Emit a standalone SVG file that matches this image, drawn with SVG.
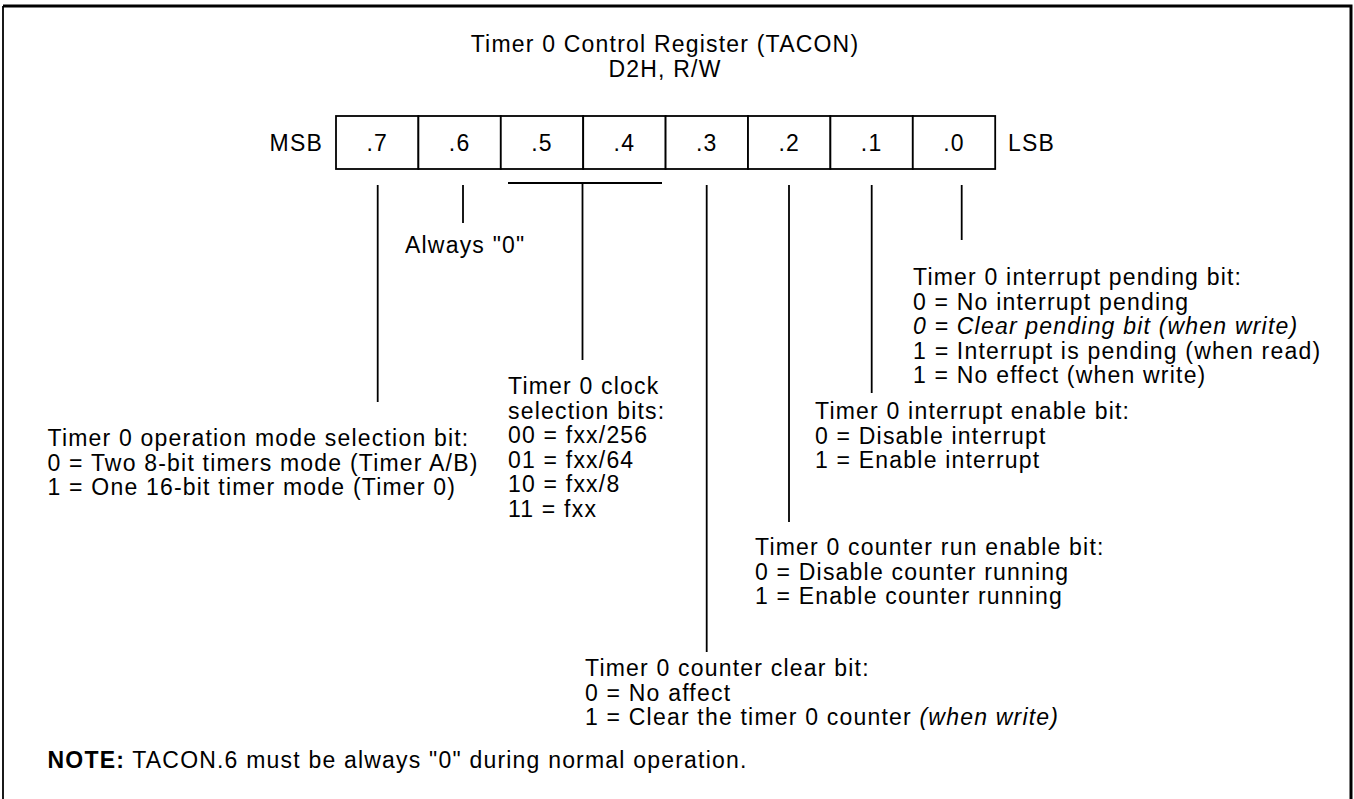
<svg xmlns="http://www.w3.org/2000/svg" width="1354" height="799" viewBox="0 0 1354 799">
<style>
text{font-family:"Liberation Sans",Arial,Helvetica,sans-serif;font-size:23px;letter-spacing:1.2px;fill:#000}
.c{text-anchor:middle}
.e{text-anchor:end}
.i{font-style:italic}
.b{font-weight:bold}
.ln{stroke:#000;stroke-width:1.8;fill:none}
.cell{fill:#fff;stroke:#000;stroke-width:1.8}
</style>
<rect width="1354" height="799" fill="#fff"/>
<path d="M1351,800 V6 H3" fill="none" stroke="#000" stroke-width="3"/>
<path d="M3,6 V800" fill="none" stroke="#000" stroke-width="1.8"/>
<g id="title">
<text class="c" x="665" y="52">Timer 0 Control Register (TACON)</text>
<text class="c" x="665" y="77">D2H, R/W</text>
</g>
<g id="register">
<text class="e" x="323" y="150.5">MSB</text>
<rect class="cell" x="336" y="116" width="82.4" height="53"/>
<rect class="cell" x="418.4" y="116" width="82.4" height="53"/>
<rect class="cell" x="500.8" y="116" width="82.4" height="53"/>
<rect class="cell" x="583.2" y="116" width="82.4" height="53"/>
<rect class="cell" x="665.6" y="116" width="82.4" height="53"/>
<rect class="cell" x="748" y="116" width="82.4" height="53"/>
<rect class="cell" x="830.4" y="116" width="82.4" height="53"/>
<rect class="cell" x="912.8" y="116" width="82.4" height="53"/>
<text class="c" x="377.2" y="150.5">.7</text>
<text class="c" x="459.6" y="150.5">.6</text>
<text class="c" x="542" y="150.5">.5</text>
<text class="c" x="624.4" y="150.5">.4</text>
<text class="c" x="706.8" y="150.5">.3</text>
<text class="c" x="789.2" y="150.5">.2</text>
<text class="c" x="871.6" y="150.5">.1</text>
<text class="c" x="954" y="150.5">.0</text>
<text x="1008" y="150.5">LSB</text>
</g>
<g id="connectors">
<path class="ln" d="M377.7,185 V402"/>
<path class="ln" d="M463,185 V223"/>
<path class="ln" d="M508,183 H662 M582.5,183 V360"/>
<path class="ln" d="M706.7,185 V652"/>
<path class="ln" d="M789,185 V522"/>
<path class="ln" d="M871.7,185 V393"/>
<path class="ln" d="M961.7,185 V240"/>
</g>
<g id="bit6">
<text x="405" y="253">Always "0"</text>
</g>
<g id="bit7">
<text x="47.5" y="446">Timer 0 operation mode selection bit:</text>
<text x="47.5" y="470.5">0 = Two 8-bit timers mode (Timer A/B)</text>
<text x="47.5" y="495">1 = One 16-bit timer mode (Timer 0)</text>
</g>
<g id="bit54">
<text x="508" y="394">Timer 0 clock</text>
<text x="508" y="418.5">selection bits:</text>
<text x="508" y="443">00 = fxx/256</text>
<text x="508" y="467.5">01 = fxx/64</text>
<text x="508" y="492">10 = fxx/8</text>
<text x="508" y="516.5">11 = fxx</text>
</g>
<g id="bit0">
<text x="913" y="285">Timer 0 interrupt pending bit:</text>
<text x="913" y="309.5">0 = No interrupt pending</text>
<text class="i" x="913" y="334">0 = Clear pending bit (when write)</text>
<text x="913" y="358.5">1 <tspan class="i">=</tspan> Interrupt is pending (when read)</text>
<text x="913" y="383">1 = No effect (when write)</text>
</g>
<g id="bit1">
<text x="815" y="419">Timer 0 interrupt enable bit:</text>
<text x="815" y="443.5">0 = Disable interrupt</text>
<text x="815" y="468">1 = Enable interrupt</text>
</g>
<g id="bit2">
<text x="755" y="555">Timer 0 counter run enable bit:</text>
<text x="755" y="579.5">0 = Disable counter running</text>
<text x="755" y="604">1 = Enable counter running</text>
</g>
<g id="bit3">
<text x="585" y="676">Timer 0 counter clear bit:</text>
<text x="585" y="700.5">0 = No affect</text>
<text x="585" y="725">1 = Clear the timer 0 counter <tspan class="i">(when write)</tspan></text>
</g>
<g id="note">
<text x="47.5" y="768"><tspan class="b">NOTE:</tspan> TACON.6 must be always "0" during normal operation.</text>
</g>
</svg>
